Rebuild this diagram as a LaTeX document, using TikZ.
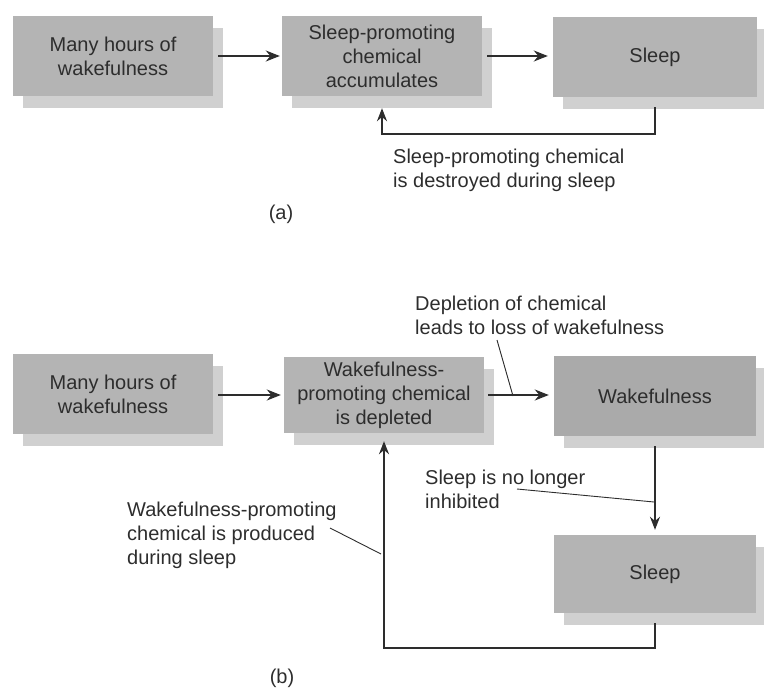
\documentclass[tikz,border=0pt]{standalone}
\usepackage{fontspec}
\setmainfont{Liberation Sans}
\usetikzlibrary{arrows.meta,shadows}
\definecolor{boxgray}{RGB}{180,180,180}
\definecolor{darkbox}{RGB}{170,170,170}
\definecolor{shadegray}{RGB}{208,208,208}
\definecolor{inkgray}{RGB}{45,45,45}
\tikzset{
  stagebox/.style={fill=boxgray, text=inkgray, align=center, inner sep=0pt,
    minimum width=200pt, minimum height=80pt,
    drop shadow={shadow xshift=10pt, shadow yshift=-12pt, fill=shadegray, opacity=1}},
  flow/.style={draw=inkgray, line width=2.3pt, -{Stealth[length=14pt,width=11pt]}},
  loopback/.style={draw=inkgray, line width=2pt, -{Stealth[length=13pt,width=10pt]}},
  note/.style={text=inkgray, align=left, anchor=west, inner sep=0pt},
  leader/.style={draw=inkgray, line width=0.9pt},
}
\begin{document}
\begin{tikzpicture}[x=1pt, y=-1pt, font=\fontsize{20}{24}\selectfont]
    \useasboundingbox (0,0) rectangle (764,688);

    % (a)
    \node[stagebox] (hoursA) at (113,56) {Many hours of\\wakefulness};
    \node[stagebox] (accum) at (382,56) {Sleep-promoting\\chemical\\accumulates};
    \node[stagebox, minimum width=204pt] (sleepA) at (655,57) {Sleep};

    \draw[flow, shorten <=5pt, shorten >=2pt] (hoursA.east) -- (accum.west);
    \draw[flow, shorten <=5pt, shorten >=5pt] (accum.east) -- (accum.east -| sleepA.west);
    \draw[loopback] ([yshift=-10pt]sleepA.south) -- ++(0,27) -| ([yshift=-12pt]accum.south);

    \node[note] (destroyNote) at (393,170) {Sleep-promoting chemical\\is destroyed during sleep};
    \node[text=inkgray] (capA) at (281,214) {(a)};

    % (b)
    \node[stagebox] (hoursB) at (113,394) {Many hours of\\wakefulness};
    \node[stagebox, minimum height=76pt] (deplete) at (384,395) {Wakefulness-\\promoting chemical\\is depleted};
    \node[stagebox, fill=darkbox, minimum width=202pt] (wake) at (655,396) {Wakefulness};
    \node[stagebox, minimum width=202pt, minimum height=78pt] (sleepB) at (655,574) {Sleep};

    \draw[flow, shorten <=5pt, shorten >=3pt] (hoursB.east |- deplete.west) -- (deplete.west);
    \draw[flow, shorten <=4pt, shorten >=5pt] (deplete.east) -- (deplete.east -| wake.west);
    \draw[loopback] ([yshift=-10pt]wake.south) -- ([yshift=5pt]sleepB.north);
    \draw[loopback] ([yshift=-10pt]sleepB.south) -- ++(0,25) -| ([yshift=-8pt]deplete.south);

    \node[note] (depNote) at (415,315) {Depletion of chemical\\leads to loss of wakefulness};
    \node[note] (inhibNote) at (425,489) {Sleep is no longer\\inhibited};
    \node[note] (prodNote) at (127,535) {Wakefulness-promoting\\chemical is produced\\during sleep};
    \node[text=inkgray] (capB) at (282,678) {(b)};

    \coordinate (depTail) at (497,340);
    \coordinate (depHead) at (513,396);
    \coordinate (inhibTail) at (517,489);
    \coordinate (inhibHead) at (654,502);
    \coordinate (prodTail) at (330,528);
    \coordinate (prodHead) at (381,554);
    \draw[leader] (depTail) -- (depHead);
    \draw[leader] (inhibTail) -- (inhibHead);
    \draw[leader] (prodTail) -- (prodHead);
\end{tikzpicture}
\end{document}
